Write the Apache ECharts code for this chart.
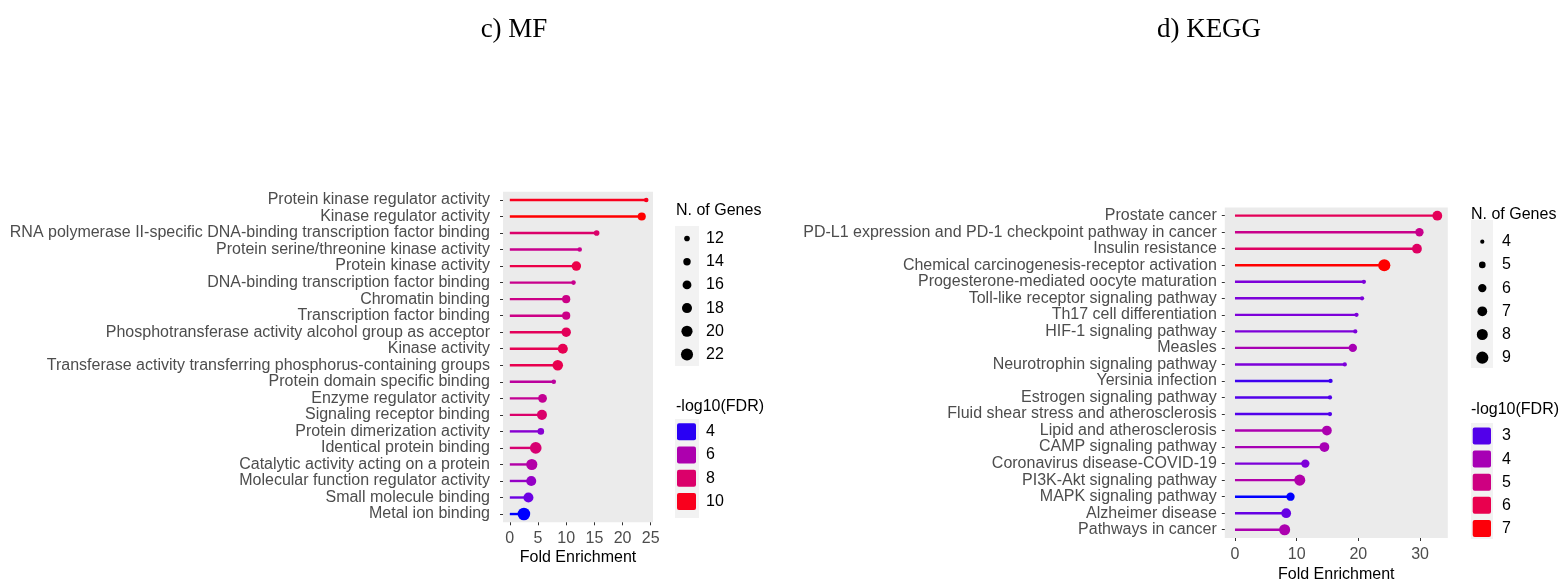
<!DOCTYPE html>
<html><head><meta charset="utf-8">
<script src="https://cdn.jsdelivr.net/npm/echarts@6/dist/echarts.min.js"></script>
<style>html,body{margin:0;padding:0;background:#fff}#c{width:1560px;height:579px}</style>
</head><body><div id="c"></div>
<script>
// ---------- data ----------
const mfTerms = [
  "Protein kinase regulator activity",
  "Kinase regulator activity",
  "RNA polymerase II-specific DNA-binding transcription factor binding",
  "Protein serine/threonine kinase activity",
  "Protein kinase activity",
  "DNA-binding transcription factor binding",
  "Chromatin binding",
  "Transcription factor binding",
  "Phosphotransferase activity alcohol group as acceptor",
  "Kinase activity",
  "Transferase activity transferring phosphorus-containing groups",
  "Protein domain specific binding",
  "Enzyme regulator activity",
  "Signaling receptor binding",
  "Protein dimerization activity",
  "Identical protein binding",
  "Catalytic activity acting on a protein",
  "Molecular function regulator activity",
  "Small molecule binding",
  "Metal ion binding"
];
const mfFold  = [24.2, 23.4, 15.4, 12.4, 11.8, 11.3, 10.0, 10.0, 10.0, 9.4, 8.5, 7.8, 5.8, 5.7, 5.5, 4.6, 3.9, 3.8, 3.3, 2.5];
const mfGenes = [11, 15, 12, 11, 17, 11, 15, 15, 17, 18, 19, 11, 16, 18, 13, 21, 20, 18, 18, 23];
const mfFDR   = [10.0, 10.5, 8.0, 7.0, 9.0, 7.0, 7.2, 7.2, 8.5, 8.7, 8.8, 6.5, 6.8, 8.0, 5.0, 7.8, 6.2, 5.3, 4.5, 3.7];

const keggTerms = [
  "Prostate cancer",
  "PD-L1 expression and PD-1 checkpoint pathway in cancer",
  "Insulin resistance",
  "Chemical carcinogenesis-receptor activation",
  "Progesterone-mediated oocyte maturation",
  "Toll-like receptor signaling pathway",
  "Th17 cell differentiation",
  "HIF-1 signaling pathway",
  "Measles",
  "Neurotrophin signaling pathway",
  "Yersinia infection",
  "Estrogen signaling pathway",
  "Fluid shear stress and atherosclerosis",
  "Lipid and atherosclerosis",
  "CAMP signaling pathway",
  "Coronavirus disease-COVID-19",
  "PI3K-Akt signaling pathway",
  "MAPK signaling pathway",
  "Alzheimer disease",
  "Pathways in cancer"
];
const keggFold  = [32.8, 29.9, 29.5, 24.2, 20.9, 20.6, 19.7, 19.5, 19.1, 17.8, 15.5, 15.4, 15.4, 14.9, 14.5, 11.4, 10.5, 9.0, 8.3, 8.05];
const keggGenes = [7, 6, 7, 9, 4, 4, 4, 4, 6, 4, 4, 4, 4, 7, 7, 6, 8, 6, 7, 8];
const keggFDR   = [5.8, 4.8, 5.6, 7.1, 3.3, 3.3, 3.3, 3.3, 4.0, 3.3, 2.9, 3.0, 3.0, 4.1, 4.0, 3.3, 4.2, 2.6, 3.1, 4.1];

const mfTicks = [0, 5, 10, 15, 20, 25];
const keggTicks = [0, 10, 20, 30];
const mfGeneBreaks = [12, 14, 16, 18, 20, 22];
const mfFdrBreaks = [4, 6, 8, 10];
const keggGeneBreaks = [4, 5, 6, 7, 8, 9];
const keggFdrBreaks = [3, 4, 5, 6, 7];
const titles = ["c) MF", "d) KEGG"];

// ---------- styling helpers ----------
const STOPS = ['#0000FF','#7300E1','#9A00C2','#B500A5','#CA0089','#DA006C','#E8004F','#F40031','#FF0000'];
const mfRange = [3.7, 10.5];
const keggRange = [2.6, 7.1];
function hex2rgb(h){return [parseInt(h.slice(1,3),16),parseInt(h.slice(3,5),16),parseInt(h.slice(5,7),16)];}
function gradColor(v, range){
  let t = (v - range[0]) / (range[1] - range[0]);
  t = Math.max(0, Math.min(1, t));
  const p = t * (STOPS.length - 1);
  const i = Math.min(Math.floor(p), STOPS.length - 2);
  const f = p - i;
  const a = hex2rgb(STOPS[i]), b = hex2rgb(STOPS[i+1]);
  const c = a.map((x, k) => Math.round(x + (b[k]-x)*f));
  return 'rgb(' + c.join(',') + ')';
}
const mfSize = g => Math.sqrt(Math.max(18, 32 + 11.5 * (g - 12)));
const keggSize = g => Math.sqrt(Math.max(18, 18 + 26 * (g - 4)));

const FONT = 'Liberation Sans, Arial, sans-serif';
const SERIF = 'Liberation Serif, Times New Roman, serif';
const FS = 16;

function rows(terms, fold, fdr, genes){
  return terms.map((t, i) => [fold[i], t, fdr[i], genes[i]]);
}
const mfData = rows(mfTerms, mfFold, mfFDR, mfGenes);
const keggData = rows(keggTerms, keggFold, keggFDR, keggGenes);

const grids = [
  {left: 503, top: 191.7, width: 150, height: 330.6},
  {left: 1224.8, top: 207.4, width: 223, height: 330.6}
];

function xAxis(gi, min, max, ticks, gap, lm){
  return {
    type: 'value', gridIndex: gi, min: min, max: max,
    name: 'Fold Enrichment', nameLocation: 'middle', nameGap: gap, nameMoveOverlap: false,
    nameTextStyle: {fontFamily: FONT, fontSize: FS, color: '#000', verticalAlign: 'middle'},
    axisLine: {show: false, onZero: false},
    splitLine: {show: false},
    axisTick: {show: true, length: 3, lineStyle: {color: '#333', width: 1}, customValues: ticks},
    axisLabel: {fontFamily: FONT, fontSize: FS, color: '#4d4d4d', margin: lm, customValues: ticks}
  };
}
function yAxis(gi, terms, margin){
  return {
    type: 'category', gridIndex: gi, data: terms, inverse: true,
    axisLine: {show: false, onZero: false},
    splitLine: {show: false},
    axisTick: {show: true, length: 3, alignWithLabel: true, lineStyle: {color: '#333', width: 1}},
    axisLabel: {fontFamily: FONT, fontSize: FS, color: '#4d4d4d', margin: margin, interval: 0}
  };
}

const option = {
  animation: false,
  backgroundColor: '#fff',
  grid: grids.map(g => Object.assign({show: true, backgroundColor: '#ebebeb', borderWidth: 0, containLabel: false, outerBoundsMode: 'none'}, g)),
  xAxis: [xAxis(0, -1.21, 25.4, mfTicks, 35.7, 8), xAxis(1, -1.65, 34.5, keggTicks, 36.7, 8.7)],
  yAxis: [yAxis(0, mfTerms, 13), yAxis(1, keggTerms, 8)],
  visualMap: [
    {type: 'continuous', show: false, seriesIndex: [0, 1], dimension: 2, min: mfRange[0], max: mfRange[1], inRange: {color: STOPS}},
    {type: 'continuous', show: false, seriesIndex: [2, 3], dimension: 2, min: keggRange[0], max: keggRange[1], inRange: {color: STOPS}}
  ],
  series: [
    {type: 'bar', xAxisIndex: 0, yAxisIndex: 0, data: mfData, encode: {x: 0, y: 1}, barWidth: 2.4, silent: true},
    {type: 'scatter', xAxisIndex: 0, yAxisIndex: 0, data: mfData, encode: {x: 0, y: 1}, symbol: 'circle',
     symbolSize: v => mfSize(v[3]), itemStyle: {opacity: 1}, z: 3},
    {type: 'bar', xAxisIndex: 1, yAxisIndex: 1, data: keggData, encode: {x: 0, y: 1}, barWidth: 2.4, silent: true},
    {type: 'scatter', xAxisIndex: 1, yAxisIndex: 1, data: keggData, encode: {x: 0, y: 1}, symbol: 'circle',
     symbolSize: v => keggSize(v[3]), itemStyle: {opacity: 1}, z: 3}
  ],
  graphic: []
};

// titles
option.graphic.push({type: 'text', x: 514, y: 30, style: {text: titles[0], font: '27px ' + SERIF, fill: '#000', align: 'center', verticalAlign: 'middle'}});
option.graphic.push({type: 'text', x: 1209, y: 30, style: {text: titles[1], font: '27px ' + SERIF, fill: '#000', align: 'center', verticalAlign: 'middle'}});

// legends
function legend(cfg){
  const g = option.graphic;
  const f = FS + 'px ' + FONT;
  g.push({type: 'text', x: cfg.x, y: cfg.sizeTitleY, style: {text: 'N. of Genes', font: f, fill: '#000', verticalAlign: 'middle'}});
  g.push({type: 'rect', shape: {x: cfg.bgX, y: cfg.sizeBg[0], width: cfg.bgW, height: cfg.sizeBg[1]}, style: {fill: '#f2f2f2'}});
  cfg.sizeBreaks.forEach((b, i) => {
    const cy = cfg.sizeY0 + i * cfg.sizeStep;
    g.push({type: 'circle', shape: {cx: cfg.dotX, cy: cy, r: cfg.sizeFn(b) / 2}, style: {fill: '#000'}});
    g.push({type: 'text', x: cfg.labelX, y: cy, style: {text: String(b), font: f, fill: '#000', verticalAlign: 'middle'}});
  });
  g.push({type: 'text', x: cfg.x, y: cfg.colTitleY, style: {text: '-log10(FDR)', font: f, fill: '#000', verticalAlign: 'middle'}});
  g.push({type: 'rect', shape: {x: cfg.bgX, y: cfg.colBg[0], width: cfg.bgW, height: cfg.colBg[1]}, style: {fill: '#f2f2f2'}});
  cfg.fdrBreaks.forEach((b, i) => {
    const cy = cfg.colY0 + i * cfg.colStep;
    g.push({type: 'rect', shape: {x: cfg.sqX, y: cy - 8.5, width: cfg.sqW, height: 17, r: 2}, style: {fill: gradColor(b, cfg.range)}});
    g.push({type: 'text', x: cfg.labelX, y: cy, style: {text: String(b), font: f, fill: '#000', verticalAlign: 'middle'}});
  });
}
legend({x: 676, sizeTitleY: 211, bgX: 675, bgW: 24, sizeBg: [226, 140], sizeBreaks: mfGeneBreaks, sizeFn: mfSize,
  sizeY0: 238.5, sizeStep: 23.2, dotX: 687, labelX: 706, colTitleY: 407, colBg: [419, 99], fdrBreaks: mfFdrBreaks,
  colY0: 431.7, colStep: 23.3, sqX: 677, sqW: 19, range: mfRange});
legend({x: 1471, sizeTitleY: 215, bgX: 1471, bgW: 22, sizeBg: [220, 148], sizeBreaks: keggGeneBreaks, sizeFn: keggSize,
  sizeY0: 241.7, sizeStep: 23.2, dotX: 1482.3, labelX: 1502, colTitleY: 410, colBg: [423, 116], fdrBreaks: keggFdrBreaks,
  colY0: 436, colStep: 23.1, sqX: 1472.7, sqW: 18.3, range: keggRange});

const chart = echarts.init(document.getElementById('c'), null, {renderer: 'canvas'});
chart.setOption(option);
</script>
</body></html>
